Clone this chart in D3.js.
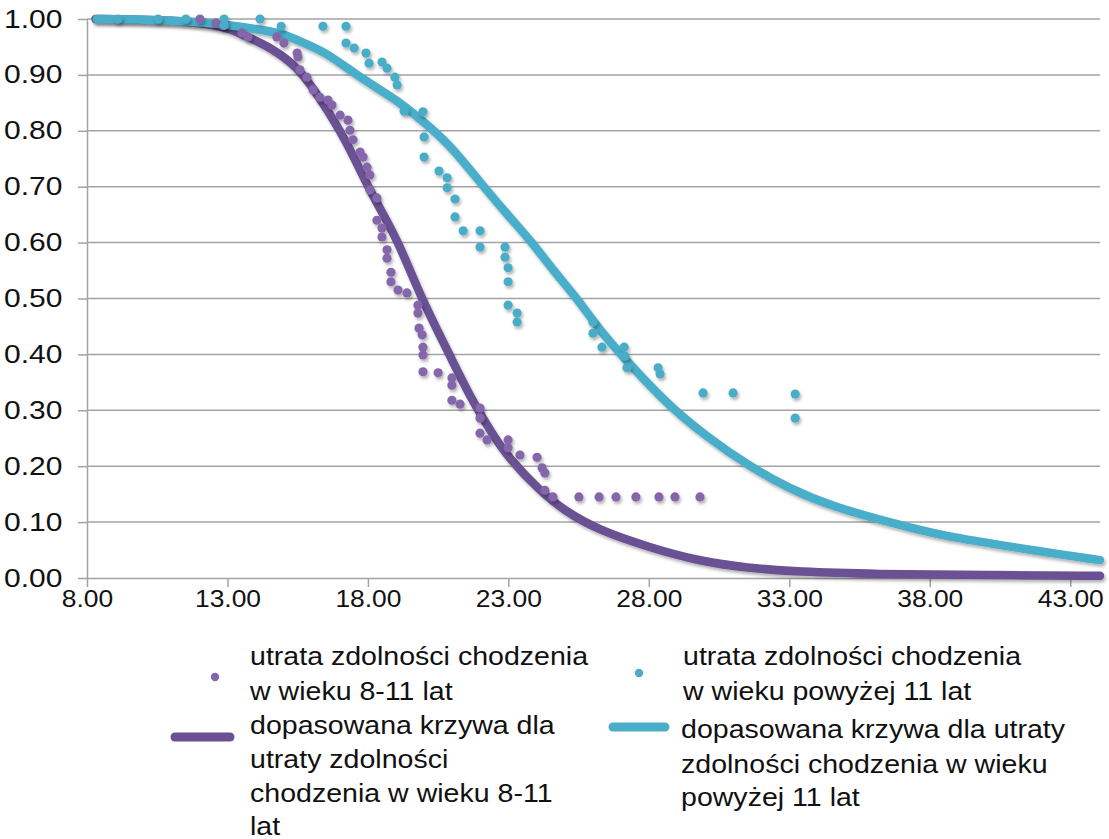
<!DOCTYPE html>
<html>
<head>
<meta charset="utf-8">
<script src="https://cdn.jsdelivr.net/npm/d3@7"></script>
<style>
  body { margin: 0; background: #fff; }
  svg { display: block; }
  text { font-family: "Liberation Sans", Arial, sans-serif; fill: #111; }
</style>
</head>
<body>
<div class="chart"></div>
<script>
// ages at which walking ability was lost, grp 8-11 (purple) and >11 (cyan)
var purpleDots = [[12.02,1.0],[12.59,0.993],[12.84,0.989],[13.52,0.975],[13.73,0.968],[14.76,0.968],
    [15.01,0.957],[15.48,0.939],[15.51,0.932],[15.58,0.909],[15.83,0.896],[16.05,0.873],[16.29,0.860],
    [16.58,0.855],[16.72,0.846],[17.01,0.828],[17.29,0.819],[17.36,0.801],[17.47,0.784],[17.72,0.762],
    [17.83,0.753],[17.97,0.735],[18.07,0.721],[18.07,0.694],[18.32,0.680],[18.32,0.640],[18.50,0.626],
    [18.50,0.610],[18.68,0.587],[18.68,0.572],[18.82,0.547],[18.82,0.530],[19.07,0.515],[19.39,0.510],
    [19.78,0.488],[19.78,0.474],[19.82,0.447],[19.93,0.435],[19.96,0.413],[19.96,0.399],[19.96,0.369],
    [20.50,0.367],[20.99,0.358],[20.99,0.345],[20.99,0.318],[21.28,0.311],[21.99,0.304],[21.99,0.286],
    [21.99,0.259],[22.24,0.247],[22.99,0.247],[22.99,0.233],[23.41,0.220],[24.02,0.216],[24.20,0.197],
    [24.30,0.188],[24.30,0.157],[24.59,0.145],[25.51,0.145],[26.23,0.145],[26.83,0.145],[27.54,0.145],
    [28.36,0.145],[28.93,0.145],[29.82,0.145]];
var cyanDots = [[9.10,1.0],[10.53,1.0],[11.52,1.0],[12.88,1.0],[12.88,0.989],[14.16,1.0],[14.91,0.987],
    [16.40,0.987],[17.22,0.987],[17.22,0.957],[17.51,0.948],[17.93,0.939],[18.04,0.921],[18.50,0.923],
    [18.68,0.912],[18.96,0.896],[19.04,0.882],[19.29,0.835],[19.96,0.834],[20.00,0.789],[20.00,0.753],
    [20.53,0.728],[20.82,0.716],[20.82,0.698],[21.10,0.678],[21.10,0.646],[21.39,0.621],[21.99,0.621],
    [21.99,0.592],[22.88,0.592],[22.88,0.574],[22.99,0.555],[22.99,0.530],[22.99,0.488],[23.31,0.474],
    [23.31,0.458],[26.01,0.458],[26.01,0.438],[26.33,0.413],[27.12,0.413],[27.15,0.397],[27.22,0.376],
    [28.33,0.376],[28.40,0.365],[29.93,0.331],[31.00,0.331],[33.21,0.329],[33.21,0.286]];
// fitted curves
var purpleCurve = [[8.3,1.0],[10,0.999],[11,0.997],[12,0.993],[13,0.985],[13.7,0.968],[14.5,0.95],
    [15.5,0.915],[16.3,0.858],[17.2,0.785],[18,0.70],[18.4,0.664],[19.1,0.600],[19.9,0.50],[20.9,0.40],
    [21.7,0.318],[22.4,0.26],[23,0.215],[24.1,0.157],[25,0.12],[26.2,0.086],[28,0.055],[29.8,0.03],
    [31.5,0.018],[33.3,0.011],[36,0.007],[40,0.005],[44.06,0.004]];
var cyanCurve = [[8.35,1.0],[10,0.999],[12,0.995],[13,0.99],[14,0.982],[14.9,0.975],[15.6,0.96],
    [16.5,0.94],[17.2,0.914],[18.2,0.88],[19.1,0.853],[20.2,0.807],[21,0.77],[22.2,0.695],[23,0.648],
    [23.85,0.600],[24.6,0.55],[25.4,0.503],[26.2,0.447],[27,0.40],[28.6,0.313],[30,0.255],[31.6,0.199],
    [33,0.16],[34.5,0.128],[36.9,0.095],[38.5,0.075],[40.5,0.059],[42,0.047],[44.06,0.032]];
var xTicks = [8, 13, 18, 23, 28, 33, 38, 43];
var yTicks = [0, 0.1, 0.2, 0.3, 0.4, 0.5, 0.6, 0.7, 0.8, 0.9, 1.0];
var legendLeft = [["utrata zdolności chodzenia", "w wieku 8-11 lat"],
    ["dopasowana krzywa dla", "utraty zdolności", "chodzenia w wieku 8-11", "lat"]];
var legendRight = [["utrata zdolności chodzenia", "w wieku powyżej 11 lat"],
    ["dopasowana krzywa dla utraty", "zdolności chodzenia w wieku", "powyżej 11 lat"]];

var W = 1109, H = 839;
var PURPLE_DOT = "#8566ab", PURPLE_LINE = "#6a5193";
var CYAN_DOT = "#4aadc8", CYAN_LINE = "#4aaec9";
var GRID = "#a3a3a3";

var svg = d3.select("div.chart").append("svg")
    .attr("width", W).attr("height", H);

var defs = svg.append("defs");
defs.append("filter").attr("id", "shadow")
    .attr("x", "-50%").attr("y", "-50%").attr("width", "200%").attr("height", "200%")
    .append("feDropShadow")
    .attr("dx", 1.5).attr("dy", 2.5).attr("stdDeviation", 1.6)
    .attr("flood-color", "#000").attr("flood-opacity", 0.3);

var x = d3.scaleLinear().domain([8, 44.06]).range([87, 1100]);
var y = d3.scaleLinear().domain([0, 1]).range([578, 19]);

// gridlines
svg.append("g").attr("class", "grid")
    .selectAll("line")
    .data(yTicks.slice(1))
    .enter()
    .append("line")
    .attr("x1", 87).attr("x2", 1100)
    .attr("y1", function(d){ return y(d); })
    .attr("y2", function(d){ return y(d); })
    .attr("stroke", GRID).attr("stroke-width", 1.5);

var yAxis = svg.append("g")
    .attr("transform", "translate(87,0)")
    .call(d3.axisLeft(y).tickValues(yTicks).tickFormat(d3.format(".2f"))
        .tickSize(9).tickPadding(11.5).tickSizeOuter(0));
yAxis.selectAll("text")
    .attr("font-size", "25px")
    .attr("font-family", null)
    .attr("transform", "scale(1.2,1)");

var xAxis = svg.append("g")
    .attr("transform", "translate(0,578)")
    .call(d3.axisBottom(x).tickValues(xTicks).tickFormat(d3.format(".2f"))
        .tickSize(9).tickPadding(3).tickSizeOuter(0));
xAxis.selectAll("text")
    .attr("font-size", "24px")
    .attr("font-family", null)
    .attr("transform", "scale(1.1,1)");
svg.selectAll(".domain, .tick line")
    .attr("stroke", GRID).attr("stroke-width", 1.5);
svg.selectAll(".tick text").attr("fill", "#1f1f1f");

// fitted curves
var line = d3.line()
    .x(function(d){ return x(d[0]); })
    .y(function(d){ return y(d[1]); })
    .curve(d3.curveBasis);

svg.append("path").datum(purpleCurve)
    .attr("d", line)
    .attr("fill", "none")
    .attr("stroke", PURPLE_LINE)
    .attr("stroke-width", 8.5)
    .attr("stroke-linecap", "round")
    .attr("filter", "url(#shadow)");

svg.append("path").datum(cyanCurve)
    .attr("d", line)
    .attr("fill", "none")
    .attr("stroke", CYAN_LINE)
    .attr("stroke-width", 8.5)
    .attr("stroke-linecap", "round")
    .attr("filter", "url(#shadow)");

// scatter
svg.append("g").attr("filter", "url(#shadow)")
    .selectAll("circle")
    .data(purpleDots)
    .enter()
    .append("circle")
    .attr("cx", function(d){ return x(d[0]); })
    .attr("cy", function(d){ return y(d[1]); })
    .attr("r", 4.6)
    .attr("fill", PURPLE_DOT);

svg.append("g").attr("filter", "url(#shadow)")
    .selectAll("circle")
    .data(cyanDots)
    .enter()
    .append("circle")
    .attr("cx", function(d){ return x(d[0]); })
    .attr("cy", function(d){ return y(d[1]); })
    .attr("r", 4.6)
    .attr("fill", CYAN_DOT);

// legend
function legendText(lines, tx, baselines){
    var g = svg.append("g");
    g.selectAll("text")
        .data(lines)
        .enter()
        .append("text")
        .text(function(d){ return d; })
        .attr("transform", function(d, i){
            return "translate(" + tx + "," + baselines[i] + ") scale(1.12,1)";
        })
        .attr("font-size", "25.5px");
}

svg.append("circle").attr("cx", 215).attr("cy", 677).attr("r", 4.2).attr("fill", PURPLE_DOT);
svg.append("line")
    .attr("x1", 175).attr("x2", 230).attr("y1", 737).attr("y2", 737)
    .attr("stroke", PURPLE_LINE).attr("stroke-width", 9).attr("stroke-linecap", "round");
legendText(legendLeft[0], 250, [665, 699.5]);
legendText(legendLeft[1], 250, [734, 768, 802, 835]);

svg.append("circle").attr("cx", 639).attr("cy", 673).attr("r", 4.2).attr("fill", CYAN_DOT);
svg.append("line")
    .attr("x1", 613).attr("x2", 665).attr("y1", 727).attr("y2", 727)
    .attr("stroke", CYAN_LINE).attr("stroke-width", 9).attr("stroke-linecap", "round");
legendText(legendRight[0], 683, [665, 700]);
legendText(legendRight[1], 681, [738, 772.5, 806]);
</script>
</body>
</html>
